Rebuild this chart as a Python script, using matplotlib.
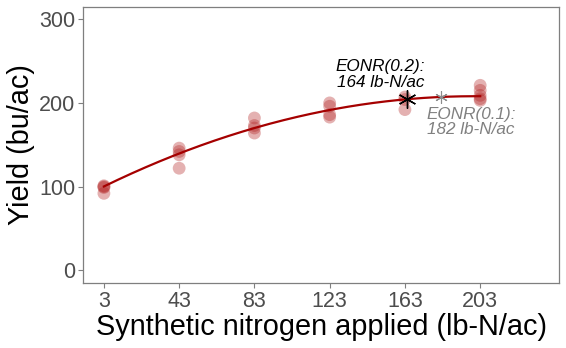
import numpy as np
import matplotlib.pyplot as plt

plt.rcParams['font.family'] = ['Liberation Sans', 'DejaVu Sans']

# observed plot yields
n_rate = [3, 3, 3, 3,
          43, 43, 43, 43,
          83, 83, 83, 83,
          123, 123, 123, 123,
          163, 163, 163,
          203, 203, 203, 203, 203]
yield_obs = [101, 100, 99, 92,
             146, 142, 138, 122,
             182, 173, 170, 164,
             200, 196, 186, 183,
             207, 204, 192,
             221, 215, 209, 205, 203]

# quadratic-plateau fit: y = b0 + b1*x + b2*x^2 up to the join point, flat after
b0, b1, b2 = 96.9, 1.111, -0.002778
join_n = 200.0

eonr_rates = [164, 182]
eonr_labels = ["EONR(0.2):\n164 lb-N/ac", "EONR(0.1):\n182 lb-N/ac"]

x_ticks = [3, 43, 83, 123, 163, 203]
y_ticks = [0, 100, 200, 300]


def qp(x):
    x = np.minimum(np.asarray(x, dtype=float), join_n)
    return b0 + b1 * x + b2 * x ** 2


fig = plt.figure(figsize=(5.66, 3.48), dpi=100)
ax = fig.add_axes([0.147, 0.187, 0.841, 0.794])

ax.scatter(n_rate, yield_obs, s=85, color='#B22222', alpha=0.35,
           edgecolors='none', zorder=2)

xs = np.linspace(min(x_ticks), max(x_ticks), 300)
ax.plot(xs, qp(xs), color='#A50000', lw=1.6, zorder=3)

ax.plot(eonr_rates[0], qp(eonr_rates[0]), marker=(6, 2, 0), ms=13,
        color='black', mew=1.0, zorder=4)
ax.plot(eonr_rates[1], qp(eonr_rates[1]), marker=(6, 2, 0), ms=9,
        color='#8C8C8C', mew=0.8, zorder=4)

ax.text(150, 234, eonr_labels[0], ha='center', va='center',
        fontsize=12.3, style='italic', color='black', linespacing=1.05)
ax.text(198, 177, eonr_labels[1], ha='center', va='center',
        fontsize=12.3, style='italic', color='#808080', linespacing=1.05)

ax.set_xlim(-8, 245)
ax.set_ylim(-15, 315)
ax.set_xticks(x_ticks)
ax.set_yticks(y_ticks)
ax.tick_params(colors='#7F7F7F', labelcolor='#4D4D4D', labelsize=15.5,
               length=3.5, width=0.8, pad=2)

for s in ax.spines.values():
    s.set_color('#7F7F7F')
    s.set_linewidth(0.9)

ax.set_xlabel("Synthetic nitrogen applied (lb-N/ac)", fontsize=20.8, labelpad=1)
ax.set_ylabel("Yield (bu/ac)", fontsize=20.8, labelpad=3)

fig.savefig("out.png", dpi=100)
